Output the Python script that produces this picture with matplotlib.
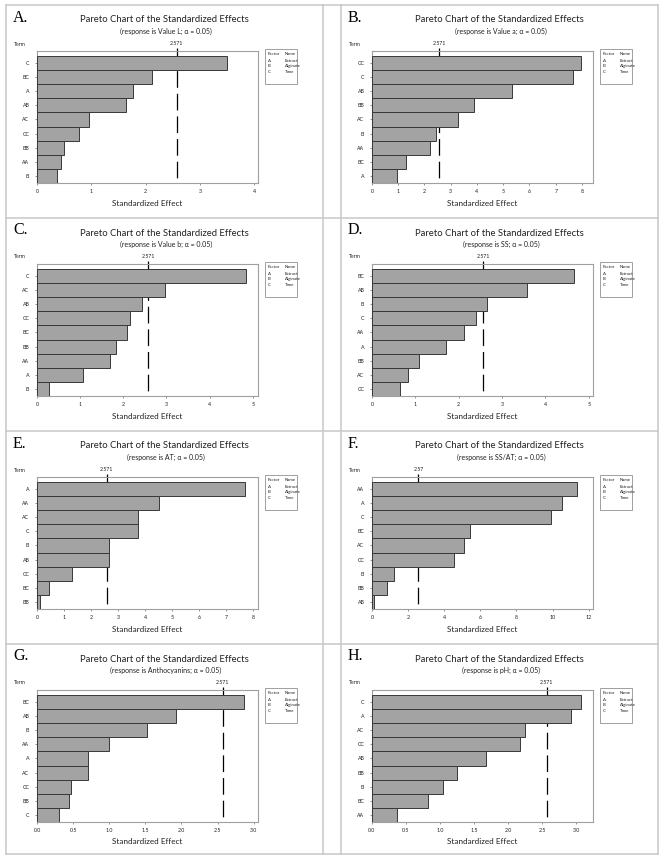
import matplotlib
matplotlib.use('Agg')
import matplotlib.pyplot as plt
from matplotlib.lines import Line2D
from matplotlib.patches import Rectangle

plt.rcParams['font.family'] = ['Lato', 'DejaVu Sans']
plt.rcParams['lines.scale_dashes'] = False

W, H = 665, 859

# data, top bar first
terms_a = ['C', 'BC', 'A', 'AB', 'AC', 'CC', 'BB', 'AA', 'B']
effects_a = [3.50, 2.12, 1.76, 1.63, 0.96, 0.78, 0.50, 0.45, 0.37]

terms_b = ['CC', 'C', 'AB', 'BB', 'AC', 'B', 'AA', 'BC', 'A']
effects_b = [7.96, 7.67, 5.34, 3.89, 3.28, 2.45, 2.22, 1.30, 0.97]

terms_c = ['C', 'AC', 'AB', 'CC', 'BC', 'BB', 'AA', 'A', 'B']
effects_c = [4.84, 2.97, 2.44, 2.16, 2.09, 1.83, 1.69, 1.07, 0.27]

terms_d = ['BC', 'AB', 'B', 'C', 'AA', 'A', 'BB', 'AC', 'CC']
effects_d = [4.65, 3.58, 2.66, 2.40, 2.13, 1.71, 1.09, 0.84, 0.65]

terms_e = ['A', 'AA', 'AC', 'C', 'B', 'AB', 'CC', 'BC', 'BB']
effects_e = [7.70, 4.52, 3.74, 3.74, 2.66, 2.66, 1.30, 0.46, 0.12]

terms_f = ['AA', 'A', 'C', 'BC', 'AC', 'CC', 'B', 'BB', 'AB']
effects_f = [11.37, 10.55, 9.93, 5.43, 5.10, 4.55, 1.22, 0.83, 0.09]

terms_g = ['BC', 'AB', 'B', 'AA', 'A', 'AC', 'CC', 'BB', 'C']
effects_g = [2.87, 1.92, 1.52, 0.99, 0.70, 0.70, 0.47, 0.44, 0.30]

terms_h = ['C', 'A', 'AC', 'CC', 'AB', 'BB', 'B', 'BC', 'AA']
effects_h = [3.07, 2.93, 2.25, 2.18, 1.68, 1.25, 1.05, 0.82, 0.37]

letters = ['A.', 'B.', 'C.', 'D.', 'E.', 'F.', 'G.', 'H.']
responses = ['Value L', 'Value a', 'Value b', 'SS', 'AT', 'SS/AT', 'Anthocyanins', 'pH']
critical = [2.571, 2.571, 2.571, 2.571, 2.571, 2.57, 2.571, 2.571]
critical_labels = ['2.571', '2.571', '2.571', '2.571', '2.571', '2.57', '2.571', '2.571']

factor_codes = ['A', 'B', 'C']
factor_names = ['Extract', 'Alginate', 'Time']

all_terms = [terms_a, terms_b, terms_c, terms_d, terms_e, terms_f, terms_g, terms_h]
all_effects = [effects_a, effects_b, effects_c, effects_d, effects_e, effects_f, effects_g, effects_h]

# axis layout per panel
x_max = [4.07, 8.42, 5.12, 5.10, 8.17, 12.24, 3.06, 3.25]
x_ticks = [
    [0, 1, 2, 3, 4],
    [0, 1, 2, 3, 4, 5, 6, 7, 8],
    [0, 1, 2, 3, 4, 5],
    [0, 1, 2, 3, 4, 5],
    [0, 1, 2, 3, 4, 5, 6, 7, 8],
    [0, 2, 4, 6, 8, 10, 12],
    [0.0, 0.5, 1.0, 1.5, 2.0, 2.5, 3.0],
    [0.0, 0.5, 1.0, 1.5, 2.0, 2.5, 3.0],
]

col_x = [6, 341]
row_y = [5, 218, 431, 644]
GRID = '#c8c8c8'
TXT = '#222222'


def fx(px):
    return px / W


def fy(py):
    return 1 - py / H


def draw_panel(fig, i):
    x0 = col_x[i % 2]
    y0 = row_y[i // 2]
    terms = all_terms[i]
    effects = all_effects[i]
    n = len(terms)

    fig.text(fx(x0 + 7), fy(y0 + 12.5), letters[i], family='Liberation Serif',
             fontsize=11.5, ha='left', va='center', color='black')
    fig.text(fx(x0 + 158), fy(y0 + 15), 'Pareto Chart of the Standardized Effects',
             fontsize=6.8, ha='center', va='center', color=TXT)
    fig.text(fx(x0 + 160), fy(y0 + 26), '(response is %s; α = 0.05)' % responses[i],
             fontsize=5.0, ha='center', va='center', color=TXT)
    fig.text(fx(x0 + 8), fy(y0 + 39), 'Term', fontsize=3.7, ha='left', va='center', color=TXT)

    ax = fig.add_axes([fx(x0 + 31), fy(y0 + 178), 221 / W, 132 / H])
    ypos = [n - 1 - k for k in range(n)]
    ax.barh(ypos, effects, height=1.0, color='#a3a3a3', edgecolor='#383838',
            linewidth=0.7, zorder=3)
    ax.set_ylim(-0.5, n - 0.5 + 0.35)
    ax.set_xlim(0, x_max[i])

    tr = ax.get_xaxis_transform()
    ax.plot([critical[i], critical[i]], [1.02, 0], transform=tr, clip_on=False,
            color='black', lw=0.9, dashes=(12, 4.3), zorder=2)
    ax.text(critical[i], 1.035, critical_labels[i], transform=tr, ha='center',
            va='bottom', fontsize=3.8, color=TXT)

    ax.set_yticks(ypos)
    ax.set_yticklabels(terms)
    ax.set_xticks(x_ticks[i])
    if isinstance(x_ticks[i][1], float):
        ax.set_xticklabels(['%.1f' % t for t in x_ticks[i]])
    else:
        ax.set_xticklabels([str(t) for t in x_ticks[i]])
    ax.tick_params(axis='both', labelsize=3.8, labelcolor=TXT, color='#666666',
                   length=1.5, width=0.5)
    ax.tick_params(axis='x', pad=3)
    ax.tick_params(axis='y', pad=4)
    for sp in ax.spines.values():
        sp.set_color('#a0a0a0')
        sp.set_linewidth(0.8)

    fig.text(fx(x0 + 141.5), fy(y0 + 198), 'Standardized Effect', fontsize=5.9,
             ha='center', va='center', color=TXT)

    # factor legend
    fig.add_artist(Rectangle((fx(x0 + 259), fy(y0 + 79)), 32 / W, 35 / H,
                             transform=fig.transFigure, facecolor='white',
                             edgecolor='#a0a0a0', lw=0.7))
    fig.text(fx(x0 + 262), fy(y0 + 48.7), 'Factor', fontsize=3.2, ha='left', va='center', color=TXT)
    fig.text(fx(x0 + 278.5), fy(y0 + 48.7), 'Name', fontsize=3.2, ha='left', va='center', color=TXT)
    for k, (code, name) in enumerate(zip(factor_codes, factor_names)):
        yy = y0 + 56 + k * 5.3
        fig.text(fx(x0 + 262), fy(yy), code, fontsize=3.2, ha='left', va='center', color=TXT)
        fig.text(fx(x0 + 278.5), fy(yy), name, fontsize=3.2, ha='left', va='center', color=TXT)


fig = plt.figure(figsize=(W / 100, H / 100), dpi=100)

# table grid around the panels
for yy in row_y + [854]:
    fig.add_artist(Line2D([fx(6), fx(658)], [fy(yy), fy(yy)], transform=fig.transFigure,
                          color=GRID, lw=1.1))
for xx in [6, 323, 341, 658]:
    fig.add_artist(Line2D([fx(xx), fx(xx)], [fy(5), fy(854)], transform=fig.transFigure,
                          color=GRID, lw=1.1))

for i in range(8):
    draw_panel(fig, i)

fig.savefig('out.png', dpi=100)
